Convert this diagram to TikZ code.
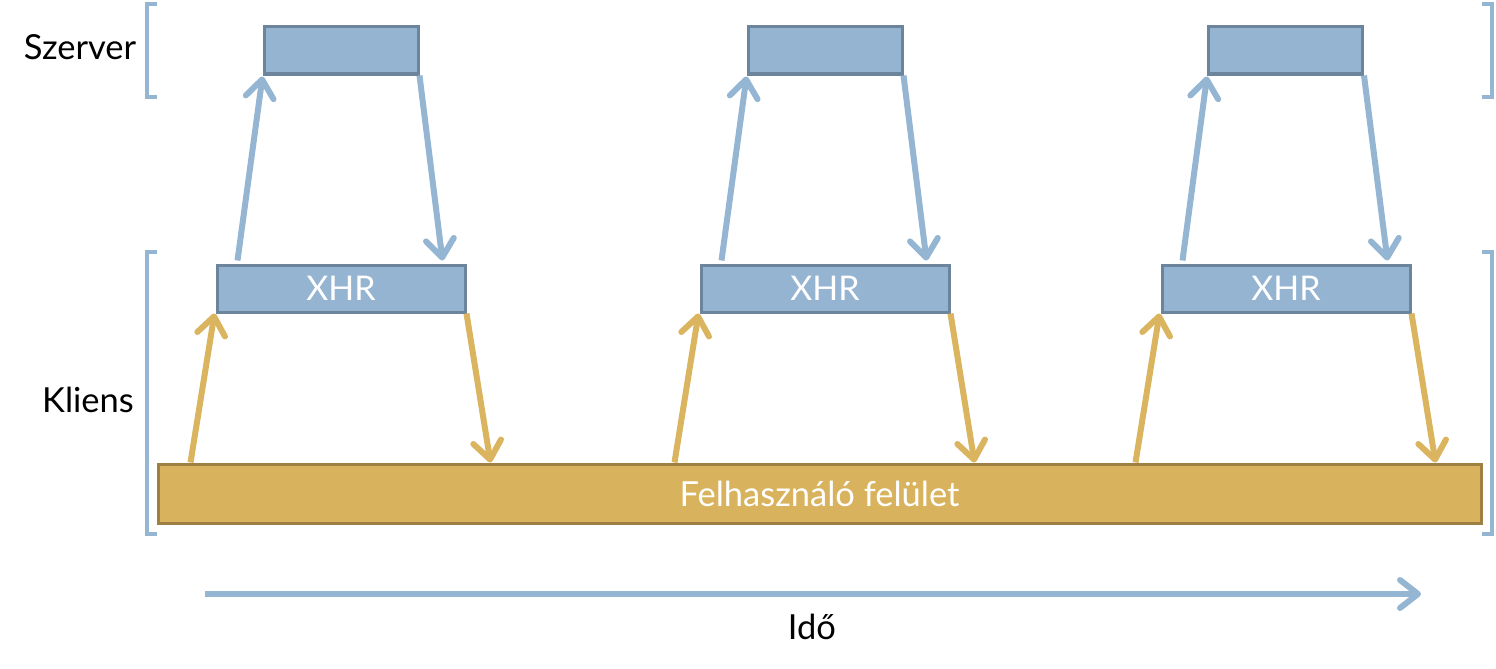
\documentclass[tikz,border=0pt]{standalone}
\usepackage{fontspec}
\setmainfont{Lato}
\usetikzlibrary{arrows.meta,calc}
\definecolor{boxblue}{HTML}{95B4D1}
\definecolor{boxblueedge}{HTML}{6C859C}
\definecolor{arrblue}{HTML}{95B6D3}
\definecolor{uiyellow}{HTML}{D8B25D}
\definecolor{uiedge}{HTML}{9E8142}
\definecolor{arryellow}{HTML}{DAB45E}
\tikzset{
  srvbox/.style={draw=boxblueedge,fill=boxblue,line width=3pt,minimum width=154pt,minimum height=47pt,inner sep=0pt},
  xhrbox/.style={draw=boxblueedge,fill=boxblue,line width=3pt,minimum width=248pt,minimum height=47pt,inner sep=0pt,text=white,font=\fontsize{34}{36}\selectfont},
  uibox/.style={draw=uiedge,fill=uiyellow,line width=3pt,minimum width=1323pt,minimum height=59pt,inner sep=0pt,text=white,font=\fontsize{34.5}{36}\selectfont},
  blarrow/.style={draw=arrblue,line width=6pt,-{Straight Barb[length=18pt,width=28pt,round]}},
  yarrow/.style={draw=arryellow,line width=6pt,-{Straight Barb[length=18pt,width=28pt,round]}},
  brack/.style={draw=arrblue,line width=4.5pt},
  lbl/.style={font=\fontsize{34.5}{36}\selectfont,text=black}
}
\begin{document}
\begin{tikzpicture}[x=1pt,y=-1pt]
\useasboundingbox (0,0) rectangle (1496,669);
% brackets
\draw[brack] (157,4) -- (147,4) -- (147,97) -- (157,97);
\draw[brack] (1482,4) -- (1492,4) -- (1492,97) -- (1482,97);
\draw[brack] (157,252) -- (147,252) -- (147,534) -- (157,534);
\draw[brack] (1482,252) -- (1492,252) -- (1492,534) -- (1482,534);
% labels
\node[lbl] (szerver) at (80,47) {Szerver};
\node[lbl] (kliens) at (88,400) {Kliens};
% boxes
\node[uibox] (ui) at (819.5,493.5) {Felhasználó felület};
\foreach \i/\sx/\xx in {1/341/341,2/825/825,3/1285.5/1286}{
  \node[srvbox] (srv\i) at (\sx,50.5) {};
  \node[xhrbox] (xhr\i) at (\xx,288.5) {XHR};
  \coordinate (yu\i) at ($(xhr\i.south west)+(-25,0)$);
  \coordinate (yd\i) at ($(xhr\i.south east)+(24,0)$);
  \draw[blarrow] ($(xhr\i.north west)+(22,-3)$) -- ($(srv\i.south west)+(0,1)$);
  \draw[blarrow] (srv\i.south east) -- ($(xhr\i.north east)+(-24,-3)$);
  \draw[yarrow] (yu\i |- ui.north) -- ($(xhr\i.south west)+(-1,0)$);
  \draw[yarrow] (xhr\i.south east) -- (yd\i |- ui.north);
}
% time axis
\coordinate (tstart) at (205,594);
\coordinate (tend) at (1421,594);
\draw[blarrow] (tstart) -- (tend);
\node[lbl] (ido) at (812,627) {Idő};
\end{tikzpicture}
\end{document}
